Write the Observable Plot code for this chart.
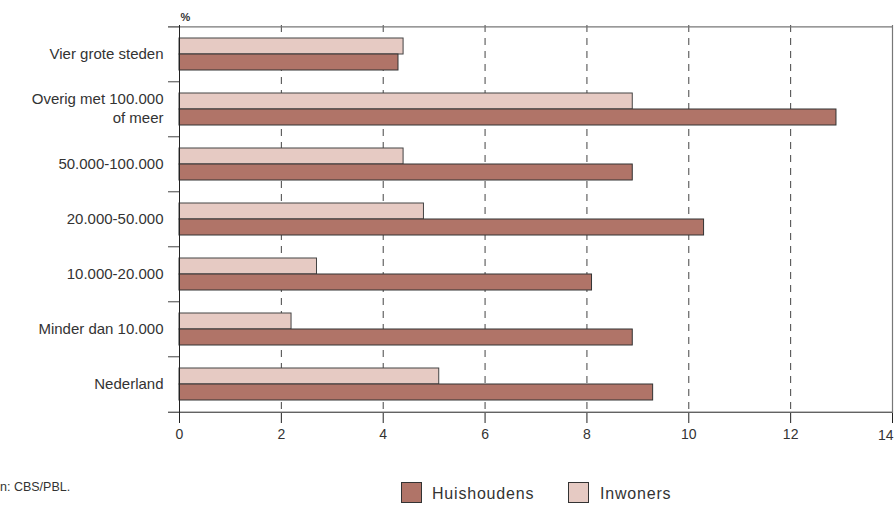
<!DOCTYPE html>
<html>
<head>
<meta charset="utf-8">
<script src="https://cdn.jsdelivr.net/npm/d3@7"></script>
<script src="https://cdn.jsdelivr.net/npm/@observablehq/plot@0.6"></script>
<style>
  html, body { margin: 0; padding: 0; background: #fff; }
  #wrap { position: relative; width: 894px; height: 508px; font-family: "Liberation Sans", Arial, sans-serif; color: #333; overflow: hidden; }
  #chart { position: absolute; left: 0; top: 0; }
  .sw { position: absolute; width: 21px; height: 21px; box-sizing: border-box; border: 1px solid #333; }
  .lt { position: absolute; font-size: 16px; letter-spacing: 0.8px; line-height: 1; }
  #src { position: absolute; left: 0; top: 480px; font-size: 12.5px; }
</style>
</head>
<body>
<div id="wrap">
  <div id="chart"></div>
  <div class="sw" style="left:401px; top:482px; background:#b07468;"></div>
  <div class="lt" style="left:432px; top:486px;">Huishoudens</div>
  <div class="sw" style="left:568px; top:482px; background:#e6cac3;"></div>
  <div class="lt" style="left:600px; top:486px;">Inwoners</div>
  <div id="src">n: CBS/PBL.</div>
</div>
<script>
const categories = [
  "Vier grote steden",
  "Overig met 100.000\nof meer",
  "50.000-100.000",
  "20.000-50.000",
  "10.000-20.000",
  "Minder dan 10.000",
  "Nederland"
];
const huishoudens = [4.3, 12.9, 8.9, 10.3, 8.1, 8.9, 9.3];
const inwoners = [4.4, 8.9, 4.4, 4.8, 2.7, 2.2, 5.1];
const xTicks = [0, 2, 4, 6, 8, 10, 12, 14];
const gridTicks = [2, 4, 6, 8, 10, 12];

const huisData = categories.map((c, i) => ({cat: c, value: huishoudens[i]}));
const inwData = categories.map((c, i) => ({cat: c, value: inwoners[i]}));

const height = 460, marginTop = 25, marginBottom = 47;
const half = (height - marginTop - marginBottom) / categories.length / 2;
const tickLeft = -11 / ((894 - 179 - 2) / 14);
const lastTick = xTicks[xTicks.length - 1];

const chart = Plot.plot({
  width: 894,
  height,
  marginLeft: 179,
  marginRight: 2,
  marginTop,
  marginBottom,
  style: {fontFamily: "Liberation Sans, Arial, sans-serif", fontSize: "14px", color: "#333", background: "#fff", overflow: "visible"},
  x: {domain: [0, 14], axis: null},
  y: {domain: categories, paddingInner: 0.711, paddingOuter: 0.3555, axis: null},
  marks: [
    Plot.ruleX(gridTicks, {stroke: "#444", strokeDasharray: "7,6", strokeWidth: 1}),
    Plot.ruleX([14], {stroke: "#777", strokeWidth: 1.2}),
    Plot.barX(inwData, {x: "value", y: "cat", dy: -8, fill: "#e6cac3", stroke: "#444", strokeWidth: 1}),
    Plot.barX(huisData, {x: "value", y: "cat", dy: 8, fill: "#b07468", stroke: "#333", strokeWidth: 1}),
    Plot.ruleY(categories, {y: d => d, dy: -half, x1: tickLeft, x2: 0, stroke: "#444"}),
    Plot.ruleY([categories[0]], {y: d => d, dy: -half, x1: tickLeft, x2: 14, stroke: "#777", strokeWidth: 1.2}),
    Plot.ruleY([categories[categories.length - 1]], {y: d => d, dy: half, x1: tickLeft, x2: 14, stroke: "#222"}),
    Plot.ruleX([0], {stroke: "#222"}),
    Plot.axisX({ticks: xTicks, tickSize: 10, text: null, label: null, stroke: "#222"}),
    Plot.axisX({ticks: xTicks.slice(0, -1), tickSize: 0, tickPadding: 16, fontSize: 14, fill: "#333", label: null}),
    Plot.text([lastTick], {x: d => d, frameAnchor: "bottom", dy: 26, dx: 1, textAnchor: "end", fontSize: 14, fill: "#333"}),
    Plot.axisY({tickSize: 0, tickPadding: 16, dy: -2, fontSize: 15, lineHeight: 1.28, fill: "#333", label: null}),
    Plot.text(["%"], {frameAnchor: "top-left", dx: 1, dy: -12, textAnchor: "start", fontWeight: "bold", fontSize: 11, fill: "#333"})
  ]
});
document.getElementById("chart").appendChild(chart);
</script>
</body>
</html>
